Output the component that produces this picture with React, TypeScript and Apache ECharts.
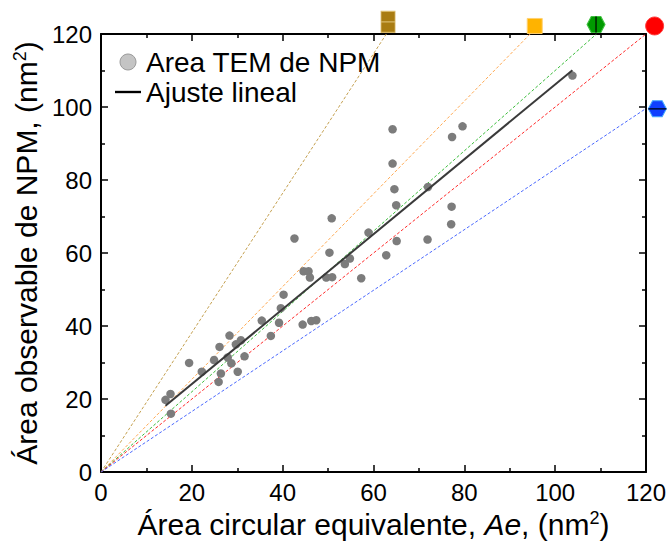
import { useEffect, useRef } from 'react';
import * as echarts from 'echarts';

// Measured points: equivalent circular area (x) vs observable TEM area (y)
const temX = [14.2, 15.3, 15.4, 19.4, 22.2, 24.9, 26.1, 28.3, 26.4, 25.9, 27.9, 28.7, 30.1, 29.7, 30.8, 31.6, 35.4, 37.4, 39.2, 39.6, 40.2, 44.4, 46.3, 47.4, 42.6, 50.8, 44.6, 45.7, 46.0, 49.6, 50.9, 50.3, 53.7, 54.8, 57.3, 58.9, 62.8, 65.0, 65.1, 71.9, 64.2, 64.2, 64.6, 72.0, 77.2, 77.1, 77.3, 79.6, 103.8];
const temY = [19.8, 21.4, 16.0, 29.9, 27.5, 30.7, 34.3, 37.4, 27.0, 24.7, 31.4, 29.8, 27.5, 35.0, 36.1, 31.7, 41.5, 37.3, 40.9, 44.9, 48.6, 40.4, 41.4, 41.6, 64.0, 69.5, 55.0, 55.0, 53.3, 53.3, 53.4, 60.1, 57.0, 58.5, 53.1, 65.6, 59.4, 73.1, 63.3, 63.7, 93.9, 84.5, 77.5, 78.1, 72.7, 67.9, 91.8, 94.7, 108.6];

// Linear fit
const fitSlope = 1.026;
const fitIntercept = 3.6;

// Reference lines y = k x and their end markers
const refSlopes = [1.91, 1.27, 1.1, 1.0, 0.83];
const refMarkerX = [63.2, 95.5, 109, 121.9, 122.5];
const refMarkerY = [123.3, 122.2, 122.6, 122.2, 99.5];

const axisMin = 0;
const axisMax = 120;
const axisStep = 20;

const seriesNames = ['Area TEM de NPM', 'Ajuste lineal'];

const refLineColors = ['#c4a050', '#ffa850', '#3cbc3c', '#ff2a2a', '#4a68ff'];
const HEX = 'path://M4,0H13L17,7.5L13,15H4L0,7.5Z';
const refMarkerStyles: any[] = [
  { symbol: 'path://M0,0H14V10H0Z M0,10H14V20H0Z', size: [14, 21], color: '#a97c12', border: '#d8b868' },
  { symbol: 'rect', size: 15, color: '#ffb300', border: '#ffd070' },
  { symbol: HEX, size: [18, 16], color: '#009a00', border: '#40c040', bar: [1.6, 16], barColor: '#002800' },
  { symbol: 'circle', size: 18, color: '#ff0000', border: '#ff4040' },
  { symbol: HEX, size: [18, 16], color: '#1040ff', border: '#40a8ff', bar: [18, 1.6], barColor: '#001040' },
];

const FONT = '"Liberation Sans", Arial, sans-serif';

export default function App() {
  const ref = useRef<HTMLDivElement>(null);
  useEffect(() => {
    if (!ref.current) return;
    const chart = echarts.init(ref.current, undefined, { renderer: 'svg' });

    const pts = temX.map((x, i) => [x, temY[i]]);
    const xMinData = Math.min(...temX);
    const xMaxData = Math.max(...temX);
    const fitData = [
      [xMinData, fitIntercept + fitSlope * xMinData],
      [xMaxData, fitIntercept + fitSlope * xMaxData],
    ];

    const refSeries: any[] = [];
    refSlopes.forEach((k, i) => {
      const end = k >= 1 ? [axisMax / k, axisMax] : [axisMax, axisMax * k];
      refSeries.push({
        type: 'line',
        data: [[0, 0], end],
        symbol: 'none',
        silent: true,
        z: 1,
        lineStyle: { color: refLineColors[i], width: 1, type: [3, 2] },
      });
      const st = refMarkerStyles[i];
      refSeries.push({
        type: 'scatter',
        data: [[refMarkerX[i], refMarkerY[i]]],
        symbol: st.symbol,
        symbolSize: st.size,
        clip: false,
        silent: true,
        z: 5,
        itemStyle: { color: st.color, borderColor: st.border, borderWidth: 1, opacity: 1 },
      });
      if (st.bar) {
        refSeries.push({
          type: 'scatter',
          data: [[refMarkerX[i], refMarkerY[i]]],
          symbol: 'rect',
          symbolSize: st.bar,
          clip: false,
          silent: true,
          z: 6,
          itemStyle: { color: st.barColor, opacity: 1 },
        });
      }
    });

    const axisCommon = (showLabel: boolean) => ({
      type: 'value',
      min: axisMin,
      max: axisMax,
      interval: axisStep,
      splitLine: { show: false },
      axisLine: { show: true, onZero: false, lineStyle: { color: '#000', width: 2 } },
      axisTick: { show: true, inside: true, length: 7, lineStyle: { color: '#000', width: 1.5 } },
      minorTick: { show: true, splitNumber: 2, length: 4, lineStyle: { color: '#000', width: 1.5 } },
      axisLabel: { show: showLabel, fontSize: 24, color: '#000', fontFamily: FONT },
    });

    chart.setOption({
      animation: false,
      backgroundColor: '#fff',
      grid: { left: 101, right: 24, top: 34, bottom: 70, containLabel: false },
      legend: {
        show: true,
        orient: 'vertical',
        left: 115,
        top: 47,
        padding: 0,
        itemWidth: 26,
        itemHeight: 16,
        itemGap: 0,
        textStyle: { fontSize: 28, color: '#000', fontFamily: FONT, lineHeight: 30 },
        data: [
          { name: seriesNames[0], icon: 'circle', itemStyle: { color: '#c4c4c4', borderColor: '#9a9a9a', borderWidth: 1 } },
          { name: seriesNames[1], icon: 'path://M0,0H22V2H0Z', itemStyle: { color: '#000' } },
        ],
      },
      xAxis: [
        {
          ...axisCommon(true),
          position: 'bottom',
          axisLabel: { show: true, fontSize: 24, color: '#000', fontFamily: FONT, margin: 8 },
          name: 'Área circular equivalente, {i|Ae}, (nm{sup|2})',
          nameLocation: 'middle',
          nameGap: 35,
          nameTextStyle: {
            fontSize: 30,
            color: '#000',
            fontFamily: FONT,
            rich: {
              i: { fontSize: 30, fontStyle: 'italic', fontFamily: FONT, color: '#000' },
              sup: { fontSize: 18, fontFamily: FONT, color: '#000', verticalAlign: 'top', padding: [0, 0, 11, 0] },
            },
          },
        },
        { ...axisCommon(false), position: 'top' },
      ],
      yAxis: [
        {
          ...axisCommon(true),
          position: 'left',
          axisLabel: { show: true, fontSize: 24, color: '#000', fontFamily: FONT, margin: 9 },
          name: 'Área observable de NPM, (nm{sup|2})',
          nameLocation: 'middle',
          nameGap: 51,
          nameTextStyle: {
            fontSize: 30,
            color: '#000',
            fontFamily: FONT,
            rich: {
              sup: { fontSize: 18, fontFamily: FONT, color: '#000', verticalAlign: 'top', padding: [0, 0, 11, 0] },
            },
          },
        },
        { ...axisCommon(false), position: 'right' },
      ],
      series: [
        ...refSeries,
        {
          name: seriesNames[0],
          type: 'scatter',
          data: pts,
          symbol: 'circle',
          symbolSize: 8.5,
          z: 3,
          itemStyle: { color: '#7c7c7c', opacity: 1 },
        },
        {
          name: seriesNames[1],
          type: 'line',
          data: fitData,
          symbol: 'none',
          z: 4,
          lineStyle: { color: '#3a3a3a', width: 2 },
        },
      ],
    });
    return () => chart.dispose();
  }, []);
  return (
    <div
      ref={ref}
      style={{ position: 'fixed', left: 0, top: 0, width: 670, height: 544, background: '#fff' }}
    />
  );
}
